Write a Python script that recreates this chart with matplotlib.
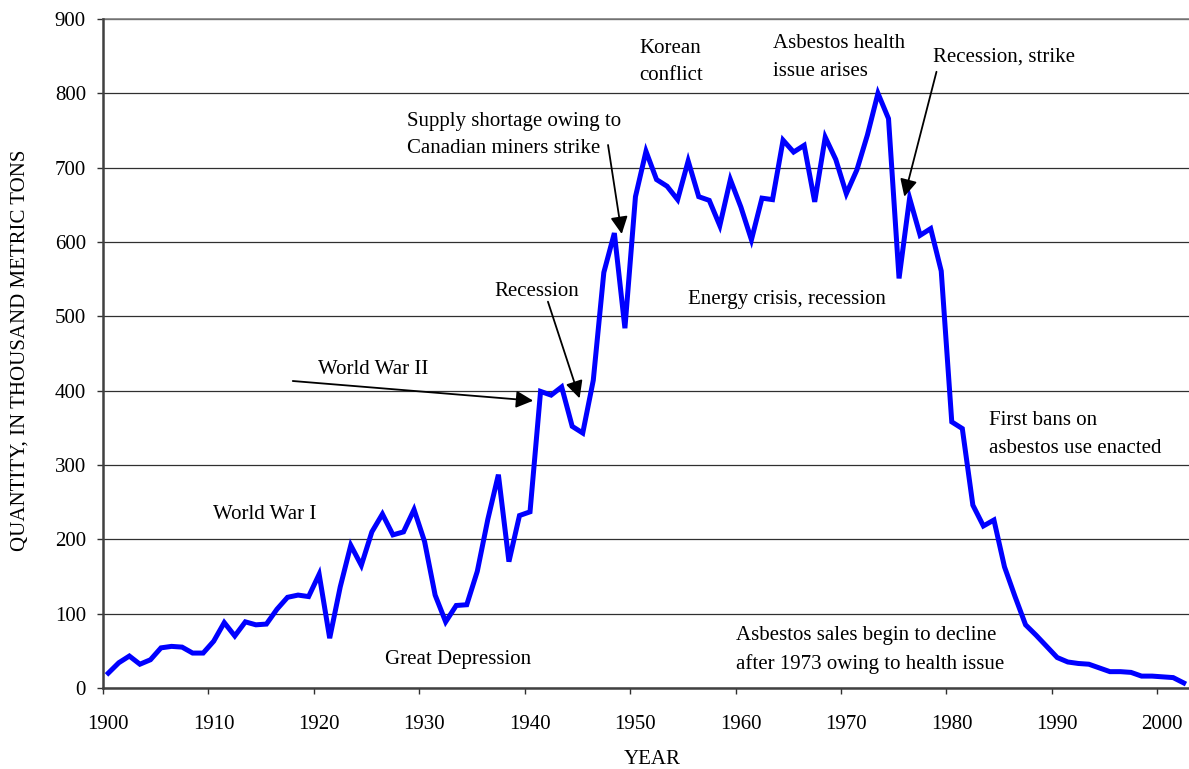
import matplotlib
matplotlib.use("Agg")
import matplotlib.pyplot as plt
import matplotlib.transforms as mtransforms

# US asbestos consumption, thousand metric tons, 1900-2002
years = list(range(1900, 2003))
quantity = [20, 34, 43, 32, 38, 54, 56, 55, 47, 47,
            63, 88, 70, 89, 85, 86, 106, 122, 125, 123,
            153, 67, 136, 192, 165, 210, 234, 206, 210, 240,
            197, 125, 89, 111, 112, 157, 227, 287, 170, 232,
            237, 399, 394, 405, 352, 343, 414, 559, 612, 484,
            661, 722, 684, 675, 657, 709, 661, 656, 622, 684,
            647, 603, 659, 657, 737, 721, 730, 654, 741, 711,
            665, 697, 744, 800, 766, 551, 659, 609, 618, 561,
            358, 349, 246, 218, 226, 163, 123, 85, 71, 56,
            41, 35, 33, 32, 27, 22, 22, 21, 16, 16,
            15, 14, 6.8]
xticks = list(range(1900, 2001, 10))
yticks = list(range(0, 901, 100))

plt.rcParams['font.family'] = ['Liberation Serif', 'DejaVu Serif']
FS = 15

fig = plt.figure(figsize=(11.89, 7.69), dpi=100)
ax = fig.add_axes([103/1189, 81/769, 1086/1189, 669/769])

# excel style: points sit in the middle of each year slot
ax.plot([y + 0.5 for y in years], quantity, color='#0000ff', lw=3.6,
        solid_joinstyle='miter', zorder=3, clip_on=False)

ax.set_xlim(1900, 2003)
ax.set_ylim(0, 900)
ax.set_xticks(xticks)
ax.set_yticks(yticks)
ax.set_xticklabels([str(t) for t in xticks], fontsize=FS)
ax.set_yticklabels([str(t) for t in yticks], fontsize=FS)
ax.tick_params(axis='x', direction='out', length=4.3, width=1, color='#303030', pad=15)
ax.tick_params(axis='y', direction='out', length=4.3, width=1, color='#303030', pad=8)
offset = mtransforms.ScaledTranslation(5/100, 0, fig.dpi_scale_trans)
for lab in ax.get_xticklabels():
    lab.set_transform(lab.get_transform() + offset)

ax.grid(axis='y', color='#303030', lw=0.9)
ax.set_axisbelow(True)
for s in ['top', 'right']:
    ax.spines[s].set_visible(False)
for s in ['left', 'bottom']:
    ax.spines[s].set_color('#404040')
    ax.spines[s].set_linewidth(1.8)
ax.axhline(900, color='#808080', lw=1.2, clip_on=False)

fig.text(20/1189, 1 - 350/769, 'QUANTITY, IN THOUSAND METRIC TONS', rotation=90,
         ha='center', va='center', fontsize=FS)
fig.text(652/1189, 1 - 760/769, 'YEAR', ha='center', va='center', fontsize=FS)

# notes
kw = dict(fontsize=FS, va='center', ha='left', linespacing=1.6)
ax.text(1950.9, 842, 'Korean\nconflict', **kw)
ax.text(1963.5, 848, 'Asbestos health\nissue arises', **kw)
ax.text(1978.7, 849, 'Recession, strike', **kw)
ax.text(1928.8, 744, 'Supply shortage owing to\nCanadian miners strike', **kw)
ax.text(1941.1, 534, 'Recession', fontsize=FS, va='center', ha='center')
ax.text(1955.5, 523, 'Energy crisis, recession', **kw)
ax.text(1925.6, 429, 'World War II', fontsize=FS, va='center', ha='center')
ax.text(1984.0, 341, 'First bans on\nasbestos use enacted', **kw)
ax.text(1910.4, 233, 'World War I', **kw)
ax.text(1926.7, 38, 'Great Depression', **kw)
ax.text(1960.0, 51, 'Asbestos sales begin to decline\nafter 1973 owing to health issue', **kw)

arrow = dict(arrowstyle='-|>', color='black', lw=1.3, mutation_scale=26,
             shrinkA=0, shrinkB=0)
ax.annotate('', xy=(1940.8, 386.5), xytext=(1918.0, 413), arrowprops=arrow)
ax.annotate('', xy=(1945.2, 389.7), xytext=(1942.2, 519.7), arrowprops=arrow)
ax.annotate('', xy=(1949.2, 610.8), xytext=(1947.9, 730.5), arrowprops=arrow)
ax.annotate('', xy=(1976.0, 661), xytext=(1979.05, 829), arrowprops=arrow)

fig.savefig('out.png', dpi=100)
